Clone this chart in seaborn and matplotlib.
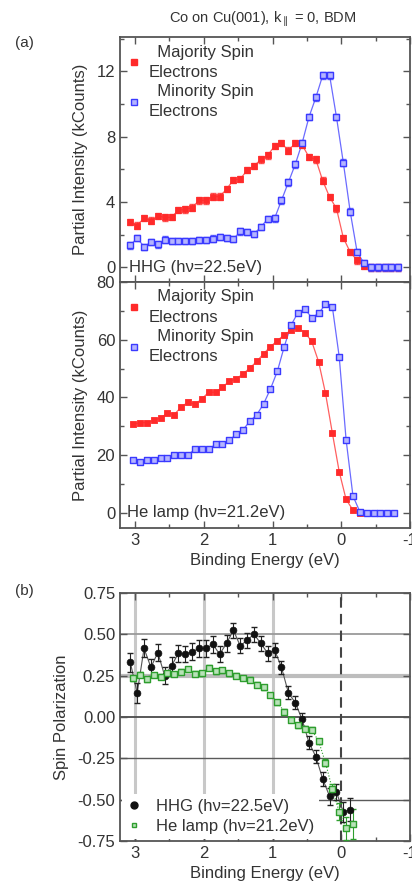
import numpy as np
import pandas as pd
import matplotlib
matplotlib.use("Agg")
import matplotlib.pyplot as plt
import seaborn as sns
from matplotlib.ticker import MultipleLocator, FormatStrFormatter
from matplotlib.lines import Line2D

# ---------------- data ----------------
hhg_energy = [3.07, 2.97, 2.87, 2.77, 2.67, 2.57, 2.47, 2.37, 2.27, 2.17,
              2.07, 1.97, 1.87, 1.77, 1.67, 1.57, 1.47, 1.37, 1.27, 1.17,
              1.07, 0.97, 0.87, 0.77, 0.67, 0.57, 0.47, 0.37, 0.27, 0.17,
              0.07, -0.03, -0.13, -0.23, -0.33, -0.43, -0.53, -0.63, -0.73, -0.83]
hhg_majority = [2.76, 2.55, 3.03, 2.85, 3.15, 3.05, 3.07, 3.5, 3.55, 3.65,
                4.1, 4.1, 4.33, 4.33, 4.78, 5.35, 5.4, 5.95, 6.2, 6.6,
                6.85, 7.44, 7.6, 7.15, 7.6, 7.5, 6.75, 6.6, 5.3, 4.3,
                3.6, 1.8, 0.93, 0.43, 0.08, 0.0, 0.0, 0.0, 0.0, 0.0]
hhg_minority = [1.34, 1.8, 1.25, 1.55, 1.4, 1.7, 1.6, 1.6, 1.6, 1.6,
                1.68, 1.68, 1.75, 1.85, 1.8, 1.72, 2.2, 2.15, 2.05, 2.46,
                2.97, 3.0, 4.1, 5.2, 6.3, 7.6, 9.2, 10.4, 11.75, 11.75,
                9.2, 6.4, 3.4, 0.95, 0.25, 0.0, 0.0, 0.0, 0.0, 0.0]

he_energy = [3.03, 2.93, 2.83, 2.73, 2.63, 2.53, 2.43, 2.33, 2.23, 2.13,
             2.03, 1.93, 1.83, 1.73, 1.63, 1.53, 1.43, 1.33, 1.23, 1.13,
             1.03, 0.93, 0.83, 0.73, 0.63, 0.53, 0.43, 0.33, 0.23, 0.13,
             0.03, -0.07, -0.17, -0.27, -0.37, -0.47, -0.57, -0.67, -0.77]
he_majority = [30.7, 31.3, 31.3, 32.1, 32.9, 34.6, 34.1, 36.7, 38.4, 37.6,
               39.5, 41.8, 41.8, 43.6, 45.6, 46.4, 48.2, 50.2, 52.5, 55.2,
               57.6, 59.7, 61.7, 63.3, 64.0, 62.5, 59.4, 52.4, 41.5, 27.7,
               14.3, 4.7, 1.0, 0.0, 0.0, 0.0, 0.0, 0.0, 0.0]
he_minority = [18.5, 17.8, 18.5, 18.5, 19.0, 18.9, 20.2, 20.2, 20.2, 22.0,
               22.3, 22.0, 23.8, 23.8, 25.2, 27.2, 28.8, 31.8, 34.0, 37.8,
               43.0, 49.1, 57.6, 65.1, 69.4, 70.6, 67.7, 69.1, 72.3, 71.4,
               54.1, 25.4, 5.9, 0.45, 0.0, 0.0, 0.0, 0.0, 0.0]

pol_hhg_energy = hhg_energy[:33]
pol_hhg = [0.33, 0.145, 0.415, 0.30, 0.39, 0.25, 0.31, 0.385, 0.38, 0.395,
           0.415, 0.415, 0.44, 0.38, 0.445, 0.525, 0.43, 0.465, 0.50, 0.445,
           0.385, 0.405, 0.30, 0.147, 0.087, -0.015, -0.155, -0.24, -0.375, -0.48,
           -0.455, -0.575, -0.56]
pol_hhg_err = [0.06, 0.06, 0.055, 0.05, 0.05, 0.05, 0.05, 0.05, 0.05, 0.05,
               0.05, 0.05, 0.05, 0.05, 0.05, 0.045, 0.045, 0.045, 0.045, 0.045,
               0.045, 0.04, 0.04, 0.04, 0.04, 0.04, 0.04, 0.04, 0.04, 0.05,
               0.05, 0.06, 0.07]
pol_he_energy = he_energy[:33]
pol_he = [0.235, 0.255, 0.228, 0.254, 0.244, 0.264, 0.26, 0.274, 0.29, 0.262,
          0.264, 0.298, 0.276, 0.284, 0.265, 0.25, 0.236, 0.225, 0.195, 0.18,
          0.133, 0.09, 0.032, -0.016, -0.05, -0.07, -0.077, -0.146, -0.276, -0.437,
          -0.573, -0.674, -0.647]
pol_he_err = [0.015] * 28 + [0.02, 0.03, 0.05, 0.07, 0.09]

# ---------------- style ----------------
sns.set_theme(style="ticks")
plt.rcParams["font.family"] = ["Liberation Sans", "DejaVu Sans"]
plt.rcParams["axes.unicode_minus"] = False
TXT = "#333333"
SPN = "#555555"
RED = "#ff2a2a"
BLUE = "#3a3aff"
GREEN = "#2e9e2e"

W, H = 412, 884
fig = plt.figure(figsize=(W / 100, H / 100), dpi=100)


def box(l, t, r, b):
    return [l / W, (H - b) / H, (r - l) / W, (b - t) / H]


ax1 = fig.add_axes(box(120, 37, 410, 282))
ax2 = fig.add_axes(box(120, 282, 410, 528))
ax3 = fig.add_axes(box(120, 593, 410, 841))

XLIM = (3.22, -1.0)


def style(ax):
    for s in ax.spines.values():
        s.set_color(SPN)
        s.set_linewidth(1.3)
    ax.tick_params(direction="in", which="both", top=True, right=True,
                   colors=SPN, labelcolor=TXT, labelsize=12, width=1)
    ax.tick_params(which="major", length=5)
    ax.tick_params(which="minor", length=3)
    ax.xaxis.set_major_locator(MultipleLocator(1))
    ax.xaxis.set_minor_locator(MultipleLocator(0.5))


def spectrum(ax, E, maj, mnr, err, msize):
    df = pd.DataFrame({"E": E, "maj": maj, "min": mnr})
    sns.lineplot(data=df, x="E", y="maj", ax=ax, color=RED, lw=0.9, alpha=0.75, sort=False)
    sns.lineplot(data=df, x="E", y="min", ax=ax, color=BLUE, lw=0.9, alpha=0.75, sort=False)
    if err:
        ax.errorbar(df["E"], df["maj"], yerr=err, fmt="none", ecolor=RED, elinewidth=0.8, capsize=2, alpha=0.8)
        ax.errorbar(df["E"], df["min"], yerr=err, fmt="none", ecolor=BLUE, elinewidth=0.8, capsize=2, alpha=0.8)
    sns.scatterplot(data=df, x="E", y="maj", ax=ax, marker="s", s=msize, color=RED,
                    edgecolor=RED, linewidth=0.6, zorder=4)
    sns.scatterplot(data=df, x="E", y="min", ax=ax, marker="s", s=msize, color="#b4b4ff",
                    edgecolor=BLUE, linewidth=1.0, zorder=4)
    handles = [Line2D([], [], ls="none", marker="s", ms=5, mfc=RED, mec=RED),
               Line2D([], [], ls="none", marker="s", ms=5, mfc="#b4b4ff", mec=BLUE)]
    leg = ax.legend(handles, ["  Majority Spin\nElectrons", "  Minority Spin\nElectrons"],
                    loc="upper left", bbox_to_anchor=(0.0, 1.0), frameon=False,
                    fontsize=12, handlelength=0.8, handletextpad=0.45,
                    labelspacing=0.25, borderaxespad=0.25, borderpad=0.2)
    for t in leg.get_texts():
        t.set_color(TXT)
        t.set_linespacing(1.45)
    ax.set_xlim(*XLIM)
    ax.set_xlabel("")
    ax.set_ylabel("Partial Intensity (kCounts)", fontsize=12, color=TXT, labelpad=6)
    style(ax)


# ---- (a) top: HHG ----
spectrum(ax1, hhg_energy, hhg_majority, hhg_minority, 0.2, 22)
ax1.set_ylim(-0.9, 14.1)
ax1.yaxis.set_major_locator(MultipleLocator(4))
ax1.yaxis.set_minor_locator(MultipleLocator(2))
ax1.tick_params(labelbottom=False)
ax1.text(0.03, 0.06, "HHG (h\u03bd=22.5eV)", transform=ax1.transAxes, fontsize=12,
         color=TXT, va="center", ha="left")

# ---- (a) bottom: He lamp ----
spectrum(ax2, he_energy, he_majority, he_minority, None, 18)
ax2.set_ylim(-5.2, 80)
ax2.yaxis.set_major_locator(MultipleLocator(20))
ax2.yaxis.set_minor_locator(MultipleLocator(10))
ax2.set_xlabel("Binding Energy (eV)", fontsize=12, color=TXT, labelpad=4)
ax2.text(0.025, 0.061, "He lamp (h\u03bd=21.2eV)", transform=ax2.transAxes, fontsize=12,
         color=TXT, va="center", ha="left")

# ---- (b) spin polarization ----
for xv in [3, 2, 1]:
    ax3.axvline(xv, color="#c8c8c8", lw=2.2, zorder=0)
ax3.axvline(0, color="#444444", lw=1.5, ls=(0, (5, 3)), zorder=1)
for yv, c, lw in [(0.5, "#9a9a9a", 1.3), (0.25, "#bdbdbd", 3.0), (0.0, "#4a4a4a", 1.3),
                  (-0.25, "#5a5a5a", 1.0), (-0.5, "#5a5a5a", 1.0)]:
    ax3.axhline(yv, color=c, lw=lw, zorder=0)

dfh = pd.DataFrame({"E": pol_hhg_energy, "P": pol_hhg, "err": pol_hhg_err})
dfg = pd.DataFrame({"E": pol_he_energy, "P": pol_he, "err": pol_he_err})
sns.lineplot(data=dfh, x="E", y="P", ax=ax3, color="#555555", lw=0.8, sort=False, zorder=2)
sns.lineplot(data=dfg, x="E", y="P", ax=ax3, color=GREEN, lw=0.8, ls=":", sort=False, zorder=2)
ax3.errorbar(dfh["E"], dfh["P"], yerr=dfh["err"], fmt="none", ecolor="#222222",
             elinewidth=0.8, capsize=2.2, zorder=3)
ax3.errorbar(dfg["E"], dfg["P"], yerr=dfg["err"], fmt="none", ecolor=GREEN,
             elinewidth=0.8, capsize=2.2, zorder=3)
sns.scatterplot(data=dfh, x="E", y="P", ax=ax3, marker="o", s=24, color="#111111",
                edgecolor="#111111", linewidth=0.5, zorder=4)
sns.scatterplot(data=dfg, x="E", y="P", ax=ax3, marker="s", s=16, color="#b8e2b8",
                edgecolor=GREEN, linewidth=1.0, zorder=4)
h3 = [Line2D([], [], ls="none", marker="o", ms=5, mfc="#111111", mec="#111111"),
      Line2D([], [], ls="none", marker="s", ms=3.5, mfc="#b8e2b8", mec=GREEN)]
leg3 = ax3.legend(h3, ["HHG (h\u03bd=22.5eV)", "He lamp (h\u03bd=21.2eV)"],
                  loc="lower left", frameon=True, fontsize=12, handlelength=0.8,
                  handletextpad=0.9, labelspacing=0.3, borderaxespad=0.15, borderpad=0.3)
leg3.get_frame().set_facecolor("white")
leg3.get_frame().set_edgecolor("none")
leg3.get_frame().set_alpha(1)
for t in leg3.get_texts():
    t.set_color(TXT)
ax3.set_xlim(*XLIM)
ax3.set_ylim(-0.75, 0.75)
ax3.yaxis.set_major_locator(MultipleLocator(0.25))
ax3.yaxis.set_major_formatter(FormatStrFormatter("%.2f"))
ax3.set_xlabel("Binding Energy (eV)", fontsize=12, color=TXT, labelpad=4)
ax3.set_ylabel("Spin Polarization", fontsize=12, color=TXT, labelpad=6)
style(ax3)

# ---- figure texts ----
fig.text(263 / W, 1 - 19 / H, "Co on Cu(001), k$_{\\parallel}$ = 0, BDM", fontsize=10.5,
         color=TXT, ha="center", va="center")
fig.text(24 / W, 1 - 43 / H, "(a)", fontsize=11, color=TXT, ha="center", va="center")
fig.text(24 / W, 1 - 591 / H, "(b)", fontsize=11, color=TXT, ha="center", va="center")

fig.savefig("out.png", dpi=100)
